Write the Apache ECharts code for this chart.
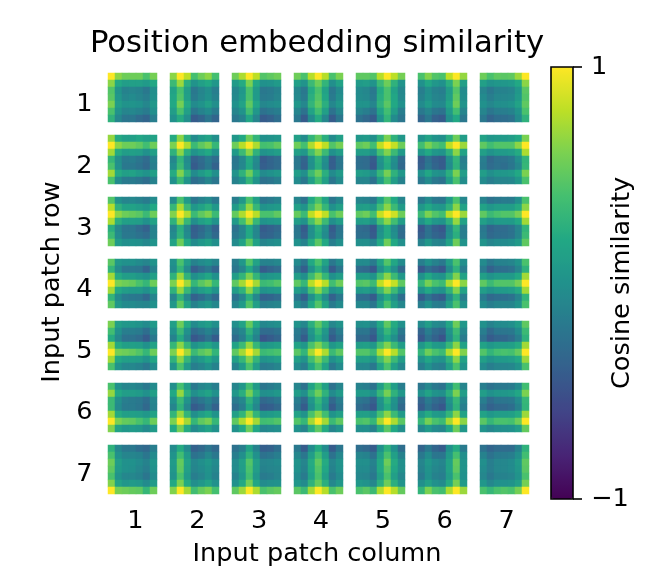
<!DOCTYPE html>
<html><head><meta charset="utf-8">
<style>html,body{margin:0;padding:0;background:#fff}#c{width:656px;height:582px}</style>
<script src="https://cdn.jsdelivr.net/npm/echarts@6/dist/echarts.min.js"></script>
</head><body><div id="c"></div>
<script>
const title='Position embedding similarity';
const rowLabels=['1','2','3','4','5','6','7'];
const colLabels=['1','2','3','4','5','6','7'];
const cells=[0,1,2,3,4,5,6];
const viridis=['#440154','#482475','#414487','#355f8d','#2a788e','#21918c','#22a884','#44bf70','#7ad151','#bddf26','#fde725'];
const p11=[1,.65,.55,.55,.55,.42,.58, .65,.2,.1,.12,.12,.08,.2, .45,.02,-.12,-.1,-.12,-.2,-.02, .48,.05,-.08,-.05,-.1,-.15,0, .6,.1,.02,.03,0,-.08,.05, .42,.02,-.1,-.08,-.12,-.18,-.02, .28,-.08,-.22,-.22,-.3,-.35,-.15];
const p12=[.65,1,.8,.4,.55,.65,.4, .35,.7,.25,.02,.12,.2,.05, .15,.42,.1,-.2,-.1,-.02,-.15, .18,.45,.12,-.18,-.08,0,-.12, .2,.58,.22,-.05,.02,.12,-.02, .1,.42,.12,-.22,-.12,-.05,-.18, 0,.22,-.02,-.42,-.35,-.22,-.35];
const p13=[.55,.75,1,.8,.45,.5,.55, .08,.22,.6,.2,0,.02,.08, -.08,.05,.42,.08,-.2,-.18,-.12, -.06,.08,.42,.08,-.18,-.16,-.1, 0,.15,.5,.18,-.08,-.05,-.02, -.1,.02,.38,.05,-.25,-.2,-.16, -.2,-.12,.18,-.1,-.42,-.38,-.28];
const p14=[.55,.42,.78,1,.78,.42,.6, .12,.02,.35,.55,.3,-.02,.15, -.08,-.2,.22,.42,.15,-.2,-.05, -.06,-.18,.25,.45,.18,-.18,-.02, .05,-.08,.3,.5,.25,-.08,.05, -.1,-.25,.15,.38,.12,-.25,-.08, -.2,-.42,-.05,.22,-.08,-.42,-.22];
const p15=[.5,.5,.45,.78,1,.8,.58, .08,.1,.02,.35,.55,.28,.02, -.05,-.08,-.2,.22,.42,.15,-.08, -.04,-.06,-.18,.24,.42,.18,-.06, .02,.02,-.1,.28,.48,.2,0, -.1,-.15,-.25,.15,.38,.1,-.15, -.25,-.32,-.42,0,.3,-.05,-.22];
const p16=[.42,.62,.45,.42,.8,1,.68, 0,.18,.05,0,.25,.6,.12, -.15,-.02,-.12,-.15,.1,.45,-.05, -.12,0,-.1,-.12,.12,.5,-.03, -.05,.08,-.05,-.06,.18,.55,.02, -.2,-.1,-.22,-.25,.08,.38,-.1, -.35,-.2,-.38,-.42,-.02,.2,-.2];
const p17=[.55,.42,.5,.48,.5,.7,1, .12,.02,.05,.05,.08,.2,.65, -.1,-.2,-.12,-.12,-.1,.05,.48, -.05,-.15,-.08,-.08,-.06,.08,.45, 0,-.08,-.02,-.02,.02,.15,.5, -.1,-.22,-.15,-.15,-.12,.02,.42, -.2,-.35,-.28,-.28,-.25,-.05,.28];
const p21=[.68,.22,.12,.12,.18,.12,.15, 1,.65,.55,.55,.5,.38,.55, .72,.22,.1,.12,.1,0,.12, .32,-.02,-.18,-.16,-.22,-.3,-.12, .42,0,-.2,-.2,-.25,-.32,-.15, .72,.22,.12,.15,.08,.02,.12, .42,-.05,-.18,-.18,-.22,-.28,-.12];
const p22=[.22,.65,.25,-.05,.08,.15,-.02, .6,1,.75,.35,.5,.6,.32, .28,.65,.25,.02,.1,.2,0, -.08,.3,-.05,-.38,-.3,-.18,-.3, -.02,.35,-.02,-.42,-.32,-.2,-.38, .22,.62,.28,-.05,.08,.18,-.02, 0,.35,.02,-.28,-.22,-.1,-.22];
const p23=[.05,.2,.55,.3,0,.02,.05, .55,.78,1,.75,.4,.42,.5, .08,.35,.65,.28,.02,.05,.1, -.22,-.08,.22,-.05,-.42,-.35,-.3, -.2,-.08,.2,-.08,-.4,-.35,-.3, .02,.28,.55,.22,-.05,0,.05, -.12,0,.3,.02,-.25,-.22,-.15];
const p24=[.12,-.05,.3,.5,.25,-.05,.12, .55,.4,.75,1,.8,.45,.58, .12,.05,.38,.62,.35,0,.1, -.2,-.35,0,.28,-.02,-.4,-.2, -.2,-.38,-.02,.25,-.05,-.4,-.22, .1,-.02,.35,.55,.25,-.05,.08, -.05,-.2,.12,.38,.12,-.22,-.05];
const p25=[.05,.08,-.02,.28,.6,.28,.05, .5,.55,.38,.8,1,.82,.55, .1,.1,.02,.4,.62,.35,.08, -.28,-.3,-.42,.02,.25,-.02,-.3, -.28,-.3,-.45,-.02,.22,-.05,-.32, .1,.08,-.02,.32,.58,.28,.05, -.1,-.1,-.25,.1,.4,.1,-.12];
const p26=[.02,.15,.02,-.02,.25,.55,.1, .38,.6,.45,.38,.8,1,.7, .05,.2,.05,.02,.28,.65,.15, -.42,-.25,-.38,-.42,-.02,.3,-.15, -.4,-.22,-.35,-.42,-.05,.28,-.12, 0,.18,.02,-.02,.25,.6,.1, -.2,-.05,-.2,-.25,.1,.42,-.03];
const p27=[.15,.05,.08,.08,.1,.2,.6, .5,.38,.45,.45,.45,.65,1, .12,.02,.08,.08,.1,.22,.75, -.15,-.32,-.25,-.25,-.2,-.02,.3, -.18,-.3,-.25,-.28,-.22,-.08,.32, .1,-.02,.05,.05,.08,.2,.6, -.05,-.15,-.1,-.1,-.08,.05,.42];
const p31=[.45,0,-.1,-.08,-.12,-.18,-.05, .78,.28,.15,.15,.1,.05,.2, 1,.65,.55,.52,.48,.35,.55, .75,.25,.12,.12,.1,0,.15, .25,-.08,-.22,-.22,-.3,-.38,-.12, .35,-.05,-.2,-.2,-.25,-.3,-.12, .55,.08,-.02,0,-.02,-.08,.02];
const p32=[-.05,.42,.08,-.22,-.12,-.05,-.2, .32,.75,.35,.05,.15,.25,.05, .62,1,.75,.35,.5,.6,.35, .28,.7,.32,-.02,.12,.2,.02, -.1,.25,-.08,-.4,-.32,-.2,-.38, -.05,.28,-.05,-.38,-.28,-.15,-.32, .15,.55,.2,-.05,.05,.12,-.02];
const p33=[-.15,.05,.42,.12,-.22,-.18,-.12, .08,.28,.68,.32,.02,.05,.08, .52,.75,1,.78,.42,.42,.5, .08,.38,.72,.32,.02,.05,.08, -.25,-.1,.2,-.08,-.42,-.38,-.32, -.2,-.1,.2,-.08,-.38,-.35,-.28, -.05,.15,.5,.15,-.1,-.05,-.02];
const p34=[-.1,-.25,.2,.42,.15,-.22,-.08, .12,.02,.35,.6,.32,0,.12, .52,.35,.8,1,.8,.42,.55, .1,.02,.4,.65,.35,-.02,.1, -.22,-.42,-.02,.25,-.02,-.42,-.22, -.2,-.38,-.02,.22,-.05,-.38,-.2, 0,-.12,.22,.48,.2,-.15,-.02];
const p35=[-.1,-.12,-.2,.15,.45,.2,-.1, .1,.12,.05,.38,.65,.35,.08, .5,.55,.38,.82,1,.85,.55, .1,.12,.02,.4,.65,.38,.1, -.3,-.32,-.45,-.02,.22,-.05,-.28, -.28,-.28,-.42,.02,.22,-.02,-.3, -.02,-.02,-.12,.2,.55,.2,-.02];
const p36=[-.2,-.05,-.2,-.22,.08,.42,-.08, .05,.2,.08,.05,.28,.65,.15, .35,.6,.45,.38,.8,1,.7, .02,.2,.05,.02,.28,.68,.15, -.45,-.25,-.4,-.45,-.05,.3,-.15, -.4,-.25,-.35,-.4,-.02,.25,-.15, -.12,.05,-.1,-.12,.15,.55,.02];
const p37=[-.12,-.25,-.2,-.18,-.18,-.02,.42, .15,.05,.1,.1,.1,.22,.65, .5,.35,.42,.45,.45,.58,1, .12,.02,.08,.08,.08,.2,.72, -.2,-.35,-.3,-.3,-.25,-.1,.3, -.18,-.32,-.28,-.28,-.25,-.1,.35, .02,-.1,-.05,-.05,-.02,.08,.5];
const p41=[.48,.05,0,0,-.05,-.1,.02, .3,-.05,-.2,-.2,-.22,-.35,-.12, .72,.22,.1,.1,.05,0,.12, 1,.6,.55,.52,.42,.32,.55, .72,.2,.1,.08,.08,0,.15, .3,-.05,-.18,-.2,-.22,-.32,-.1, .5,.05,-.05,-.05,-.08,-.1,0];
const p42=[0,.42,.1,-.12,-.05,0,-.1, -.05,.3,-.05,-.4,-.3,-.2,-.35, .28,.7,.28,-.02,.08,.18,0, .6,1,.7,.32,.48,.58,.32, .28,.68,.32,0,.1,.18,.02, -.1,.28,-.08,-.38,-.3,-.18,-.32, .05,.5,.15,-.12,-.02,.05,-.08];
const p43=[-.15,.05,.45,.15,-.12,-.12,-.08, -.22,-.1,.2,-.08,-.42,-.35,-.3, .1,.3,.6,.3,.02,.05,.08, .5,.72,1,.72,.35,.38,.45, .1,.28,.65,.3,.02,.05,.08, -.25,-.1,.25,-.08,-.38,-.35,-.3, -.1,.08,.45,.12,-.15,-.12,-.1];
const p44=[-.05,-.22,.2,.42,.15,-.2,-.05, -.2,-.4,0,.25,-.02,-.42,-.22, .1,-.02,.35,.6,.32,0,.1, .5,.32,.78,1,.78,.38,.55, .1,0,.4,.65,.35,0,.08, -.22,-.4,-.02,.25,-.05,-.38,-.2, -.05,-.18,.18,.45,.15,-.18,-.05];
const p45=[-.05,-.05,-.18,.15,.45,.18,-.05, -.3,-.32,-.45,-.02,.22,-.02,-.32, .1,.1,.02,.38,.65,.35,.05, .45,.48,.35,.8,1,.82,.5, .08,.1,.02,.35,.62,.35,.05, -.28,-.3,-.42,-.02,.22,-.02,-.28, -.08,-.08,-.22,.12,.42,.12,-.08];
const p46=[-.15,0,-.12,-.2,.1,.42,-.02, -.45,-.28,-.38,-.45,-.05,.28,-.15, 0,.2,.05,.02,.28,.62,.15, .32,.58,.42,.35,.75,1,.65, .02,.2,.05,0,.28,.62,.15, -.42,-.25,-.38,-.42,-.05,.28,-.15, -.15,0,-.15,-.18,.12,.42,0];
const p47=[-.05,-.2,-.12,-.12,-.1,.02,.42, -.18,-.38,-.28,-.28,-.25,-.1,.28, .12,.02,.08,.08,.08,.2,.72, .5,.35,.45,.45,.45,.58,1, .1,.02,.08,.08,.1,.22,.72, -.18,-.32,-.28,-.28,-.25,-.1,.3, -.05,-.15,-.1,-.1,-.1,.02,.42];
const p51=[.6,.12,.05,.05,.02,-.05,.08, .38,0,-.15,-.15,-.18,-.28,-.08, .22,-.08,-.25,-.25,-.3,-.42,-.2, .72,.22,.12,.12,.1,0,.15, 1,.58,.55,.52,.45,.32,.55, .72,.2,.12,.12,.1,.02,.18, .42,.02,-.08,-.08,-.12,-.2,-.05];
const p52=[.12,.55,.22,-.05,.05,.1,-.02, 0,.35,0,-.3,-.22,-.12,-.22, -.12,.22,-.1,-.45,-.38,-.25,-.42, .32,.65,.32,.02,.1,.18,.05, .6,1,.7,.35,.48,.55,.3, .28,.65,.3,0,.08,.2,.05, .02,.42,.08,-.15,-.1,0,-.12];
const p53=[-.02,.15,.52,.2,-.08,-.05,-.02, -.18,-.08,.28,-.02,-.3,-.3,-.25, -.3,-.15,.15,-.12,-.48,-.42,-.35, .15,.35,.68,.32,.05,.08,.12, .5,.72,1,.72,.35,.38,.42, .12,.32,.62,.3,.02,.05,.1, -.12,.08,.42,.1,-.18,-.15,-.1];
const p54=[.02,-.08,.25,.5,.25,-.08,.02, -.18,-.3,.05,.32,.05,-.32,-.15, -.22,-.42,-.02,.22,-.02,-.42,-.25, .15,.05,.42,.62,.38,.05,.15, .48,.3,.72,1,.75,.35,.5, .12,.02,.38,.62,.35,0,.12, -.05,-.15,.18,.42,.15,-.2,-.05];
const p55=[-.02,0,-.1,.2,.5,.22,0, -.22,-.22,-.35,.05,.32,.12,-.2, -.32,-.32,-.45,-.02,.2,-.02,-.3, .1,.12,.05,.4,.62,.35,.1, .45,.45,.35,.75,1,.78,.45, .12,.12,.05,.38,.62,.35,.1, -.08,-.08,-.2,.15,.42,.12,-.08];
const p56=[-.05,.1,-.05,-.08,.18,.55,.05, -.35,-.15,-.3,-.35,.02,.35,-.08, -.45,-.25,-.38,-.48,-.05,.28,-.18, .05,.22,.08,.05,.32,.65,.15, .3,.55,.42,.35,.75,1,.62, .02,.18,.05,.02,.28,.65,.15, -.15,0,-.12,-.15,.12,.42,.02];
const p57=[0,-.12,-.05,-.05,-.02,.1,.5, -.15,-.32,-.22,-.22,-.2,-.05,.35, -.25,-.42,-.35,-.35,-.3,-.15,.28, .15,.05,.1,.1,.12,.22,.72, .45,.3,.4,.42,.4,.52,1, .12,.02,.08,.08,.1,.2,.7, -.05,-.15,-.1,-.1,-.08,.02,.42];
const p61=[.42,0,-.1,-.08,-.12,-.2,-.05, .68,.2,.1,.1,.08,0,.12, .35,-.02,-.15,-.18,-.2,-.28,-.1, .35,-.05,-.18,-.18,-.22,-.32,-.12, .72,.22,.12,.12,.1,.05,.15, 1,.6,.52,.5,.42,.32,.55, .62,.15,.05,.08,.05,-.05,.08];
const p62=[-.02,.4,.1,-.2,-.1,-.05,-.15, .2,.68,.25,-.02,.08,.15,0, 0,.35,.02,-.3,-.22,-.12,-.25, -.1,.28,-.08,-.42,-.35,-.2,-.38, .3,.68,.3,-.02,.1,.2,.02, .6,1,.72,.32,.5,.58,.32, .2,.58,.22,-.05,.05,.15,0];
const p63=[-.1,.05,.38,.08,-.22,-.18,-.12, .05,.25,.58,.25,-.02,0,.05, -.18,-.08,.28,0,-.32,-.28,-.22, -.28,-.15,.2,-.08,-.42,-.4,-.32, .12,.3,.65,.3,.05,.08,.12, .5,.75,1,.72,.38,.4,.45, 0,.2,.55,.18,-.08,-.05,-.02];
const p64=[-.1,-.25,.15,.38,.12,-.25,-.1, .1,-.02,.32,.55,.28,-.05,.08, -.15,-.32,.05,.32,.05,-.32,-.15, -.22,-.42,-.02,.25,-.02,-.42,-.22, .15,.02,.42,.65,.38,.02,.12, .45,.32,.72,1,.72,.35,.5, 0,-.1,.25,.5,.22,-.1,.02];
const p65=[-.12,-.15,-.25,.1,.38,.1,-.15, .08,.08,0,.32,.58,.28,.05, -.22,-.25,-.38,.02,.3,.02,-.25, -.3,-.35,-.45,-.02,.22,-.02,-.32, .12,.12,.05,.4,.65,.35,.08, .42,.45,.32,.72,1,.75,.48, -.02,-.02,-.12,.22,.48,.2,-.02];
const p66=[-.22,-.08,-.2,-.25,.05,.38,-.1, 0,.15,.02,-.02,.25,.6,.1, -.35,-.18,-.3,-.35,.02,.32,-.08, -.42,-.25,-.38,-.45,-.05,.28,-.15, .05,.22,.08,.05,.3,.65,.15, .32,.58,.42,.35,.72,1,.65, -.08,.08,-.05,-.08,.18,.55,.05];
const p67=[-.15,-.25,-.2,-.2,-.18,-.05,.38, .1,0,.05,.05,.08,.18,.6, -.15,-.3,-.22,-.22,-.2,-.05,.32, -.25,-.38,-.32,-.32,-.28,-.12,.3, .15,.05,.1,.1,.12,.22,.7, .48,.32,.42,.42,.4,.55,1, .02,-.08,-.02,-.02,0,.1,.52];
const p71=[.28,-.08,-.2,-.2,-.28,-.32,-.15, .42,0,-.1,-.1,-.12,-.22,-.05, .55,.1,0,0,-.05,-.12,.03, .5,.08,0,-.02,-.08,-.15,0, .42,.02,-.08,-.08,-.12,-.22,-.05, .62,.15,.05,.08,.05,-.05,.08, 1,.58,.55,.52,.5,.32,.55];
const p72=[-.05,.22,-.05,-.38,-.32,-.22,-.32, .02,.38,.08,-.25,-.2,-.08,-.2, .08,.52,.15,-.08,-.02,.05,-.05, .05,.5,.12,-.1,-.05,.02,-.08, .02,.42,.08,-.15,-.1,0,-.12, .2,.6,.22,-.02,.05,.15,0, .62,1,.72,.38,.52,.6,.4];
const p73=[-.25,-.15,.15,-.12,-.4,-.38,-.28, -.15,-.02,.28,0,-.25,-.22,-.15, -.05,.12,.45,.12,-.1,-.08,-.05, -.05,.1,.42,.1,-.12,-.1,-.08, -.12,.05,.38,.05,-.18,-.15,-.1, 0,.2,.55,.18,-.05,-.02,0, .5,.7,1,.75,.42,.48,.52];
const p74=[-.2,-.42,-.05,.22,-.05,-.42,-.22, -.08,-.22,.1,.38,.1,-.25,-.08, .02,-.1,.22,.5,.22,-.1,.02, 0,-.12,.2,.45,.18,-.12,0, -.05,-.18,.15,.42,.12,-.18,-.05, .05,-.05,.28,.52,.25,-.08,.05, .48,.35,.72,1,.78,.42,.55];
const p75=[-.28,-.32,-.42,0,.28,0,-.28, -.1,-.12,-.25,.12,.42,.12,-.12, -.02,-.02,-.12,.2,.55,.22,-.02, -.05,-.05,-.15,.2,.48,.18,-.02, -.08,-.1,-.2,.12,.42,.12,-.08, .05,.02,-.08,.25,.55,.25,.02, .42,.48,.35,.75,1,.78,.52];
const p76=[-.35,-.2,-.35,-.42,0,.22,-.18, -.2,-.05,-.22,-.22,.08,.4,-.02, -.1,.05,-.05,-.1,.15,.52,.02, -.12,.02,-.08,-.12,.15,.5,.02, -.18,0,-.12,-.15,.1,.42,0, -.02,.12,0,-.05,.22,.58,.08, .3,.6,.42,.38,.75,1,.7];
const p77=[-.25,-.35,-.3,-.3,-.3,-.12,.28, -.12,-.25,-.18,-.18,-.15,-.02,.38, -.02,-.15,-.08,-.08,-.05,.08,.5, -.05,-.15,-.08,-.08,-.05,.05,.48, -.08,-.2,-.12,-.12,-.1,.02,.42, .05,-.08,0,0,.02,.12,.58, .42,.32,.42,.45,.42,.58,1];
const panels=[[p11,p12,p13,p14,p15,p16,p17],[p21,p22,p23,p24,p25,p26,p27],[p31,p32,p33,p34,p35,p36,p37],[p41,p42,p43,p44,p45,p46,p47],[p51,p52,p53,p54,p55,p56,p57],[p61,p62,p63,p64,p65,p66,p67],[p71,p72,p73,p74,p75,p76,p77]];

const font='DejaVu Sans', ink='#000', big=25.6;
const grid=[],xAxis=[],yAxis=[],series=[];
panels.forEach((row,r)=>row.forEach((vals,c)=>{
  const i=grid.length;
  grid.push({left:108+62*c,top:73+62*r,width:49,height:49,show:false,outerBoundsMode:'none'});
  xAxis.push({type:'category',gridIndex:i,data:cells,show:false});
  yAxis.push({type:'category',gridIndex:i,data:cells,inverse:true,show:false});
  series.push({type:'heatmap',xAxisIndex:i,yAxisIndex:i,silent:true,emphasis:{disabled:true},
    data:vals.map((v,k)=>[k%7,Math.floor(k/7),v])});
}));
const nHeat=series.length;
// tick labels
const oi=grid.length;
grid.push({left:104.5,top:74,width:433,height:431,show:false,outerBoundsMode:'none'});
xAxis.push({type:'category',gridIndex:oi,data:colLabels,position:'bottom',
  axisLine:{show:false},axisTick:{show:false},axisLabel:{color:ink,fontFamily:font,fontSize:big,margin:3}});
yAxis.push({type:'category',gridIndex:oi,data:rowLabels,inverse:true,
  axisLine:{show:false},axisTick:{show:false},axisLabel:{color:ink,fontFamily:font,fontSize:big,margin:12}});
// axis names
const ni=grid.length;
grid.push({left:101,top:66,width:432,height:432,show:false,outerBoundsMode:'none'});
xAxis.push({type:'category',gridIndex:ni,data:colLabels,position:'bottom',
  axisLine:{show:false},axisTick:{show:false},axisLabel:{show:false},nameMoveOverlap:false,
  name:'Input patch column',nameLocation:'middle',nameGap:43,nameTextStyle:{color:ink,fontFamily:font,fontSize:big}});
yAxis.push({type:'category',gridIndex:ni,data:rowLabels,inverse:true,
  axisLine:{show:false},axisTick:{show:false},axisLabel:{show:false},nameMoveOverlap:false,
  name:'Input patch row',nameLocation:'middle',nameGap:36,nameTextStyle:{color:ink,fontFamily:font,fontSize:big}});
// colour bar frame and axis
const bi=grid.length;
grid.push({left:551,top:67,width:22,height:432,show:true,borderColor:'#000',borderWidth:1.6,backgroundColor:'transparent',z:20,outerBoundsMode:'none'});
xAxis.push({type:'category',gridIndex:bi,data:['bar'],show:false,z:20});
yAxis.push({type:'value',gridIndex:bi,position:'right',min:-1,max:1,interval:2,z:20,
  splitLine:{show:false},axisLine:{show:false},nameMoveOverlap:false,
  axisTick:{show:true,length:9,lineStyle:{color:'#000',width:1.6}},
  axisLabel:{color:ink,fontFamily:font,fontSize:big,margin:18,formatter:v=>v<0?'\u22121':String(v)},
  name:'Cosine similarity',nameLocation:'middle',nameGap:36,nameRotate:90,nameTextStyle:{color:ink,fontFamily:font,fontSize:big}});

const chart=echarts.init(document.getElementById('c'),null,{renderer:'canvas'});
chart.setOption({
  animation:false,backgroundColor:'#fff',
  title:{text:title,left:312,top:24,textAlign:'center',textStyle:{color:ink,fontFamily:font,fontSize:30.7,fontWeight:'normal'}},
  tooltip:{show:false},
  grid,xAxis,yAxis,series,
  visualMap:{type:'continuous',min:-1,max:1,dimension:2,seriesIndex:series.map((s,i)=>i).slice(0,nHeat),
    calculable:false,hoverLink:false,realtime:false,showLabel:false,orient:'vertical',
    left:551,top:67,padding:0,itemWidth:22,itemHeight:432,text:null,
    inRange:{color:viridis}}
});
</script></body></html>
